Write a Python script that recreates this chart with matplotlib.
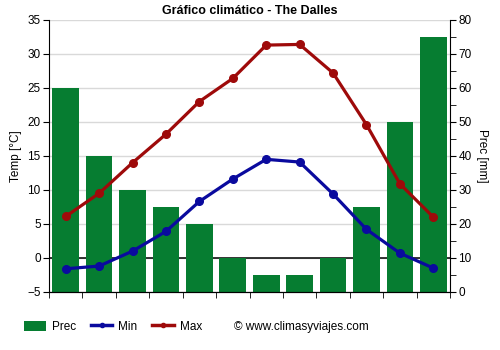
import matplotlib.pyplot as plt
from matplotlib.patches import Patch
from matplotlib.lines import Line2D

plt.rcParams['font.family'] = ['Liberation Sans', 'DejaVu Sans']

months = ['Ene', 'Feb', 'Mar', 'Abr', 'May', 'Jun', 'Jul', 'Ago', 'Sep', 'Oct', 'Nov', 'Dic']
prec = [60, 40, 30, 25, 20, 10, 5, 5, 10, 25, 50, 75]
t_min = [-1.6, -1.2, 1.0, 3.9, 8.3, 11.6, 14.5, 14.1, 9.4, 4.2, 0.7, -1.5]
t_max = [6.1, 9.5, 14.0, 18.2, 23.0, 26.4, 31.3, 31.4, 27.2, 19.6, 10.9, 6.0]

t_lo, t_hi = -5, 35
p_lo, p_hi = 0, 80

green = '#067d31'
blue = '#0a0a9e'
red = '#9e0a0a'

fig = plt.figure(figsize=(5, 3.5), dpi=100)
ax = fig.add_axes([0.098, 0.166, 0.802, 0.777])
axp = ax.twinx()
ax.set_zorder(2)
axp.set_zorder(1)
ax.patch.set_visible(False)

x = range(len(months))

# precipitation bars on the right-hand axis, behind everything
axp.bar(x, prec, width=0.8, color=green, zorder=2)
axp.set_ylim(p_lo, p_hi)
axp.set_yticks(range(0, 81, 10))
axp.set_yticks(range(5, 80, 10), minor=True)
axp.tick_params(axis='y', which='both', direction='out', length=4, labelsize=8.5, pad=2)
axp.set_ylabel('Prec [mm]', fontsize=8.5, rotation=270, labelpad=12)

# grid lives on the bar axis so the bars cover it
axp.set_xticks([i + 0.5 for i in range(-1, 12)], minor=True)
axp.grid(True, which='minor', axis='x', color='#d9d9d9', linewidth=1, zorder=0)
axp.grid(True, which='major', axis='y', color='#d9d9d9', linewidth=1, zorder=0)
axp.set_axisbelow(True)
zero_p = (0 - t_lo) / (t_hi - t_lo) * (p_hi - p_lo)
axp.axhline(zero_p, color='black', linewidth=1.1, zorder=1)

ax.plot(x, t_min, color=blue, linewidth=2.3, marker='o', markersize=5.5, zorder=3)
ax.plot(x, t_max, color=red, linewidth=2.3, marker='o', markersize=5.5, zorder=3)
ax.set_ylim(t_lo, t_hi)
ax.set_xlim(-0.5, 11.5)
ax.set_yticks(range(-5, 36, 5))
ax.set_xticks(list(x))
ax.set_xticklabels(months)
ax.set_xticks([i + 0.5 for i in range(-1, 12)], minor=True)
ax.tick_params(axis='x', which='major', length=0, labelsize=8.5, pad=6)
ax.tick_params(axis='x', which='minor', length=4, direction='out')
ax.tick_params(axis='y', direction='out', length=4, labelsize=8.5, pad=2)
ax.set_ylabel('Temp [°C]', fontsize=8.5, labelpad=4)
axp.set_xticks([])

for a in (ax, axp):
    a.spines['top'].set_visible(False)
ax.spines['right'].set_visible(False)
axp.spines['left'].set_visible(False)

ax.set_title('Gráfico climático - The Dalles', fontsize=9, fontweight='bold', pad=4)

handles = [
    Patch(facecolor=green),
    Line2D([0], [0], color=blue, linewidth=2.5, marker='o', markersize=3),
    Line2D([0], [0], color=red, linewidth=2.5, marker='o', markersize=3),
]
fig.legend(handles, ['Prec', 'Min', 'Max'], loc='center left', bbox_to_anchor=(0.048, 0.066),
           ncol=3, frameon=False, fontsize=8.5, handlelength=1.85, handleheight=0.9,
           columnspacing=1.25, handletextpad=0.5, borderpad=0, borderaxespad=0)
fig.text(0.468, 0.066, '© www.climasyviajes.com', fontsize=8.5, va='center', ha='left')

fig.savefig('out.png', dpi=100)
